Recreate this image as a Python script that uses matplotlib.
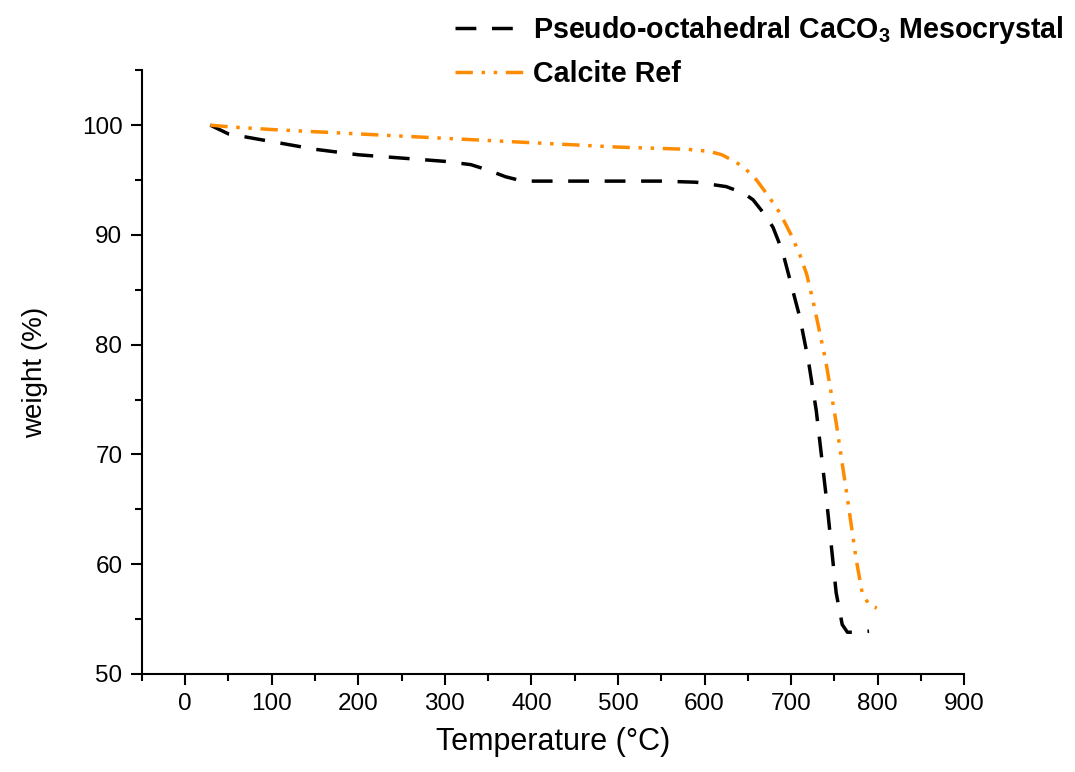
import matplotlib
matplotlib.use("Agg")
import matplotlib.pyplot as plt
from matplotlib.ticker import MultipleLocator

plt.rcParams['font.family'] = ['Liberation Sans', 'DejaVu Sans']
plt.rcParams['mathtext.fontset'] = 'custom'
plt.rcParams['mathtext.rm'] = 'Liberation Sans'
plt.rcParams['mathtext.bf'] = 'Liberation Sans:bold'

# TGA curves
meso_T = [29, 50, 100, 150, 200, 250, 300, 330, 350, 370, 385, 400, 450, 500, 550,
          590, 625, 645, 656, 670, 679, 690, 701, 710, 720, 729, 741, 752, 759, 765, 775, 790]
meso_w = [100.0, 99.2, 98.5, 97.8, 97.3, 97.0, 96.7, 96.4, 95.9, 95.3, 95.0, 94.9, 94.9, 94.9, 94.9,
          94.8, 94.4, 93.8, 93.2, 91.8, 90.7, 88.5, 85.2, 82.5, 78.5, 74.0, 65.8, 57.4, 54.5, 53.8, 53.8, 53.9]

calc_T = [29, 50, 100, 200, 300, 400, 500, 580, 606, 620, 632, 645, 660, 675, 687,
          700, 710, 718, 725, 740, 752, 765, 775, 782, 790, 799]
calc_w = [100.0, 99.85, 99.6, 99.2, 98.8, 98.4, 98.0, 97.8, 97.6, 97.3, 96.8, 96.2, 95.0, 93.4, 92.0,
          90.0, 88.2, 86.4, 84.1, 78.5, 72.9, 66.0, 60.5, 57.4, 56.3, 56.0]

fig = plt.figure(figsize=(10.75, 7.72), dpi=100)
ax = fig.add_axes([0.132, 0.127, 0.765, 0.782])

ax.plot(meso_T, meso_w, color='black', lw=2.5, linestyle=(0, (6, 4.5)),
        label='Pseudo-octahedral CaCO$_\\mathbf{3}$ Mesocrystal')
ax.plot(calc_T, calc_w, color='#ff8c00', lw=2.5, linestyle=(0, (5, 2.5, 1.0, 2.5, 1.0, 2.5)),
        label='Calcite Ref')

ax.set_xlim(-50, 900)
ax.set_ylim(50, 105)
ax.xaxis.set_major_locator(MultipleLocator(100))
ax.xaxis.set_minor_locator(MultipleLocator(50))
ax.yaxis.set_major_locator(MultipleLocator(10))
ax.yaxis.set_minor_locator(MultipleLocator(5))
ax.set_yticks([50, 60, 70, 80, 90, 100])
ax.tick_params(which='major', direction='out', length=8, width=1.5, labelsize=17.5, pad=6)
ax.tick_params(which='minor', direction='out', length=5, width=1.5)
for s in ['top', 'right']:
    ax.spines[s].set_visible(False)
for s in ['left', 'bottom']:
    ax.spines[s].set_linewidth(1.5)

ax.set_xlabel('Temperature (°C)', fontsize=22, labelpad=8)
ax.set_ylabel('weight (%)', fontsize=20, labelpad=24)

fig.legend(loc='upper left', bbox_to_anchor=(0.399, 1.015), frameon=False,
           prop={'weight': 'bold', 'size': 20.6}, handlelength=2.45, handletextpad=0.3,
           labelspacing=0.5)

fig.savefig('out.png', dpi=100)
